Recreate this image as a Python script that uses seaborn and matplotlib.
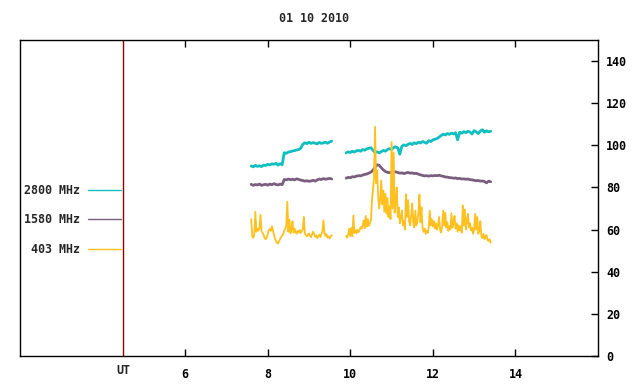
import numpy as np
import pandas as pd
import matplotlib
matplotlib.use("Agg")
import matplotlib.pyplot as plt
from matplotlib.lines import Line2D
import seaborn as sns

# solar radio flux, 01 10 2010, two observing runs (hours UT)
seg1_start = 7.6
seg2_start = 9.9
step_slow = 0.05    # 2800 / 1580 MHz sampling
step_fast = 0.025   # 403 MHz sampling

f2800_seg1 = [90.2, 89.8, 90.5, 90.0, 90.3, 89.9, 90.6, 90.4, 91.0, 90.7, 91.2, 91.0, 91.5, 90.6,
              91.3, 90.8, 96.5, 96.2, 96.8, 97.0, 97.3, 97.5, 97.8, 98.0, 98.6, 100.5, 101.2, 100.8,
              101.5, 100.9, 101.3, 101.0, 100.7, 101.4, 100.9, 101.2, 101.5, 101.0, 101.6, 102.0]
f2800_seg2 = [96.4, 96.9, 96.6, 97.2, 96.8, 97.4, 97.6, 97.2, 98.0, 97.7, 98.3, 98.6, 98.9, 97.6,
              96.6, 96.9, 96.4, 97.0, 97.6, 97.2, 98.0, 98.4, 98.1, 98.9, 99.3, 98.8, 95.8, 99.6,
              100.2, 99.8, 100.5, 100.9, 100.4, 101.2, 100.8, 101.5, 101.1, 101.8, 101.4, 101.0,
              102.2, 101.8, 102.6, 102.9, 103.2, 103.9, 104.6, 105.3, 104.9, 105.6, 105.2, 105.8,
              105.4, 106.0, 102.6, 106.2, 105.8, 106.5, 106.0, 106.7, 106.3, 105.4, 107.0, 106.4,
              105.6, 106.8, 107.4, 106.2, 106.9, 106.4, 106.7]

f1580_seg1 = [81.5, 81.0, 81.4, 81.2, 81.6, 81.0, 81.3, 81.5, 81.1, 81.6, 81.3, 81.8, 81.4, 81.2,
              81.6, 81.3, 83.8, 83.6, 84.0, 83.7, 83.9, 83.6, 84.1, 83.8, 83.5, 83.3, 83.0, 83.2,
              82.9, 83.1, 83.4, 83.0, 83.6, 84.0, 83.8, 84.2, 83.9, 84.1, 84.3, 84.0]
f1580_seg2 = [84.4, 84.8, 84.6, 85.1, 85.0, 85.4, 85.6, 85.5, 85.9, 86.2, 86.4, 86.8, 87.3, 88.2,
              89.6, 90.8, 90.5, 89.4, 88.3, 87.6, 87.2, 87.0, 87.2, 87.6, 87.4, 87.1, 86.8, 86.9,
              86.6, 86.9, 87.1, 86.8, 86.9, 86.6, 86.7, 86.3, 86.0, 85.7, 85.5, 85.6, 85.4, 85.6,
              85.5, 85.7, 85.6, 85.8, 85.5, 85.3, 85.0, 84.9, 84.7, 84.6, 84.4, 84.5, 84.2, 84.3,
              84.0, 84.1, 83.9, 84.0, 83.7, 83.6, 83.4, 83.2, 83.3, 83.0, 83.1, 82.8, 82.2, 83.0,
              82.7]

f403_seg1 = [65.0, 57.0, 56.0, 57.5, 68.5, 59.0, 60.5, 59.5, 60.8, 67.0, 59.2, 58.5, 57.5, 56.0,
             55.4, 56.2, 57.8, 59.8, 60.2, 59.4, 61.5, 60.0, 57.6, 55.8, 54.6, 53.8, 53.4, 54.5,
             55.6, 56.4, 57.2, 58.0, 59.6, 60.4, 62.0, 73.2, 59.0, 64.8, 58.2, 60.0, 64.0, 58.5,
             60.5, 59.0, 58.0, 59.4, 58.6, 59.8, 58.4, 59.2, 60.2, 66.0, 58.0, 57.4, 56.8, 57.6,
             58.2, 57.0, 56.4, 57.8, 59.0, 58.0, 56.6, 57.2, 56.0, 56.8, 57.6, 56.4, 58.0, 59.2,
             64.3, 58.4, 57.0, 57.8, 56.2, 56.8, 55.8, 56.6, 57.4]
f403_seg2 = [57.0, 56.2, 57.6, 60.4, 57.0, 60.8, 56.8, 66.7, 58.4, 59.6, 58.2, 60.0, 58.8, 59.8,
             61.2, 60.4, 62.0, 64.3, 60.6, 66.5, 61.4, 65.0, 61.8, 63.0, 64.3, 73.8, 79.5, 84.8,
             108.8, 82.0, 88.0, 76.0, 70.0, 74.6, 83.3, 72.0, 78.5, 68.5, 77.0, 67.6, 75.0, 66.0,
             71.0, 65.0, 101.5, 70.0, 96.6, 68.0, 73.0, 80.0, 66.0, 70.5, 63.0, 65.8, 69.0, 62.0,
             64.0, 60.0, 76.8, 66.0, 74.0, 64.0, 62.0, 66.5, 72.4, 63.5, 61.0, 69.0, 62.0, 64.0,
             68.0, 76.6, 63.5, 70.6, 61.0, 59.0, 60.5, 58.0, 59.5, 58.4, 61.0, 69.0, 62.0, 65.0,
             61.5, 64.0, 60.5, 63.0, 60.0, 62.0, 66.0, 60.0, 58.6, 61.5, 69.0, 62.0, 68.0, 61.0,
             63.5, 59.4, 61.6, 60.0, 67.8, 61.0, 64.0, 66.5, 60.5, 63.0, 59.0, 62.0, 59.6, 61.5,
             58.5, 71.4, 62.0, 69.5, 60.0, 64.0, 67.5, 61.0, 63.0, 59.6, 61.0, 58.0, 60.0, 67.5,
             60.0, 66.0, 58.0, 59.5, 64.0, 57.0, 56.0, 58.0, 55.5, 56.2, 57.4, 55.0, 54.6, 55.4,
             53.8]

freq_labels = ["2800 MHz", "1580 MHz", "403 MHz"]
colors = {"2800 MHz": "#10bfbf", "1580 MHz": "#7a5e7e", "403 MHz": "#ffc020"}
widths = {"2800 MHz": 2.0, "1580 MHz": 2.0, "403 MHz": 1.3}


def segment(vals, start, step, label, seg):
    t = start + step * np.arange(len(vals))
    return pd.DataFrame({"time": t, "flux": vals, "freq": label, "seg": seg})


radio = pd.concat([
    segment(f2800_seg1, seg1_start, step_slow, "2800 MHz", 1),
    segment(f2800_seg2, seg2_start, step_slow, "2800 MHz", 2),
    segment(f1580_seg1, seg1_start, step_slow, "1580 MHz", 1),
    segment(f1580_seg2, seg2_start, step_slow, "1580 MHz", 2),
    segment(f403_seg1, seg1_start, step_fast, "403 MHz", 1),
    segment(f403_seg2, seg2_start, step_fast, "403 MHz", 2),
], ignore_index=True)

sns.set_style("white")
plt.rcParams["font.family"] = ["DejaVu Sans Mono"]
plt.rcParams["font.weight"] = "bold"
plt.rcParams["font.size"] = 8.4

fig = plt.figure(figsize=(6.4, 3.84), dpi=100)
ax = fig.add_axes([20 / 640, 28 / 384, 578 / 640, 316 / 384])

sns.lineplot(data=radio, x="time", y="flux", hue="freq", hue_order=freq_labels,
             units="seg", estimator=None, palette=colors, linewidth=1, legend=False, ax=ax)

# thicker traces to mimic the noisy band; legend keys stay thin
inv = {v: k for k, v in colors.items()}
for ln in ax.lines:
    c = matplotlib.colors.to_hex(ln.get_color())
    if c in inv:
        ln.set_linewidth(widths[inv[c]])

ax.axvline(4.5, color="#8b0000", linewidth=1)

ax.set_xlim(2, 16)
ax.set_ylim(0, 150)
ax.set_xticks([6, 8, 10, 12, 14])
ax.set_yticks(range(0, 141, 20))
ax.yaxis.tick_right()
ax.tick_params(axis="x", direction="in", length=5, width=1, top=True, bottom=True, pad=9, colors="black")
ax.tick_params(axis="y", direction="in", length=5, width=1, right=True, left=False, pad=6, colors="black")
ax.set_xlabel("")
ax.set_ylabel("")
ax.text(4.5, -0.045, "UT", transform=ax.get_xaxis_transform(), ha="center", va="center")
for sp in ax.spines.values():
    sp.set_color("black")
    sp.set_linewidth(1)

keys = [Line2D([], [], color=colors[f], linewidth=1) for f in freq_labels]
ax.legend(keys, freq_labels, loc="upper right", bbox_to_anchor=(0.175, 0.545),
          frameon=False, markerfirst=False, handlelength=2.85, handletextpad=0.7,
          labelspacing=1.42, borderpad=0, borderaxespad=0)

fig.text(0.49, 1 - 19 / 384, "01 10 2010", ha="center", va="center")

fig.savefig("out.png", dpi=100)
